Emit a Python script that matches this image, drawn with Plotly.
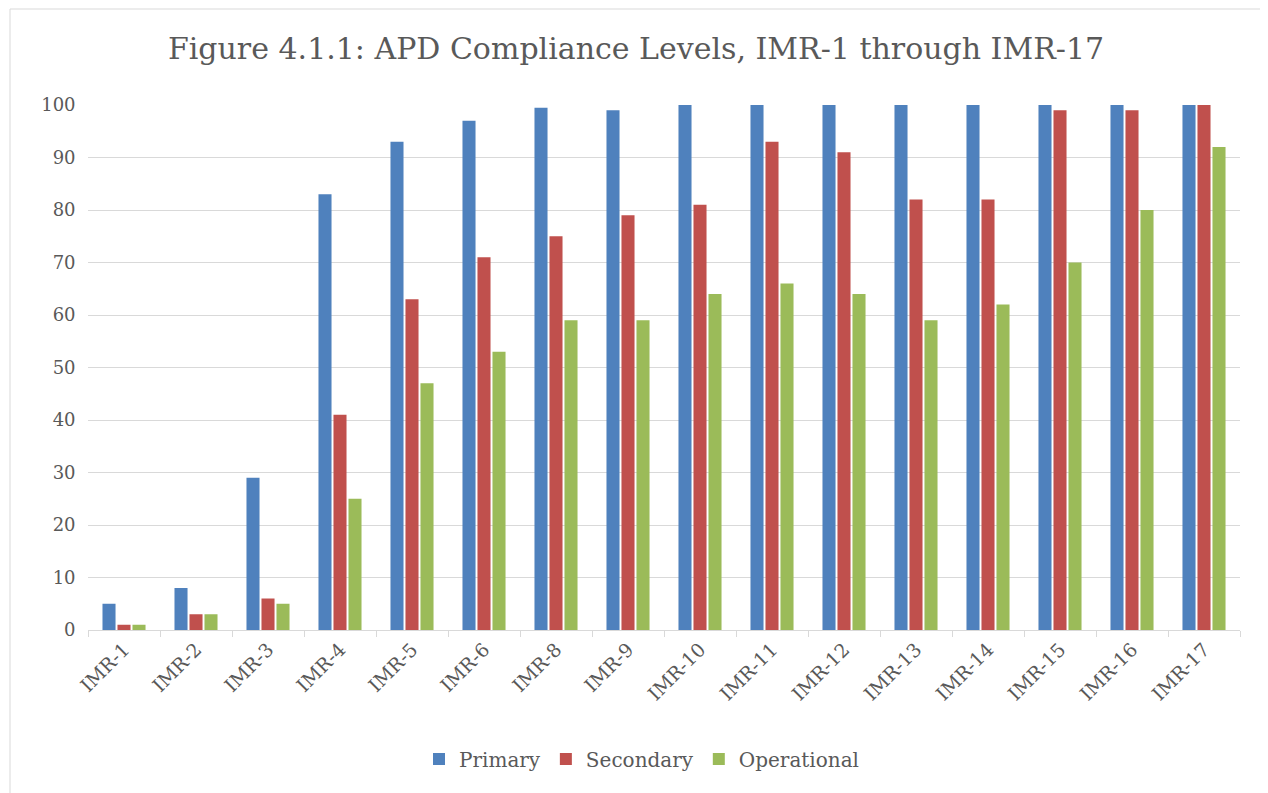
import plotly.graph_objects as go

categories = ["IMR-1", "IMR-2", "IMR-3", "IMR-4", "IMR-5", "IMR-6", "IMR-8", "IMR-9",
              "IMR-10", "IMR-11", "IMR-12", "IMR-13", "IMR-14", "IMR-15", "IMR-16", "IMR-17"]
primary = [5, 8, 29, 83, 93, 97, 99.5, 99, 100, 100, 100, 100, 100, 100, 100, 100]
secondary = [1, 3, 6, 41, 63, 71, 75, 79, 81, 93, 91, 82, 82, 99, 99, 100]
operational = [1, 3, 5, 25, 47, 53, 59, 59, 64, 66, 64, 59, 62, 70, 80, 92]

series_names = ["Primary", "Secondary", "Operational"]
colors = ["#4f81bd", "#c0504d", "#9bbb59"]

FONT = "DejaVu Serif"
TXT = "#595959"

fig = go.Figure()
for name, vals, col in zip(series_names, [primary, secondary, operational], colors):
    fig.add_trace(go.Bar(name=name, x=categories, y=vals, marker_color=col,
                         marker_line_width=0))

OFF = 8  # page body margin
W, H = 1268 - OFF, 793 - OFF
L, R, T, B = 88 - OFF, 28, 105 - OFF, 163
pw, ph = W - L - R, H - T - B

def px_x(x):
    return (x - OFF - L) / pw

def px_y(y):
    return (H - B - (y - OFF)) / ph

fig.update_layout(
    width=W, height=H,
    margin=dict(l=L, r=R, t=T, b=B),
    paper_bgcolor="white", plot_bgcolor="white",
    barmode="group", bargap=0.375, bargroupgap=0.13,
    font=dict(family=FONT, color=TXT, size=17),
    title=dict(text="Figure 4.1.1: APD Compliance Levels, IMR-1 through IMR-17",
               x=px_x(636), xanchor="center", xref="paper",
               y=1 - (48 - OFF) / H, yanchor="middle",
               font=dict(family=FONT, size=30, color=TXT)),
    legend=dict(orientation="h", x=px_x(642), xanchor="center", y=px_y(759), yanchor="middle",
                font=dict(family=FONT, size=20, color=TXT), traceorder="normal",
                itemwidth=30),
    showlegend=True,
    shapes=[dict(type="rect", xref="paper", yref="paper",
                 x0=px_x(10), x1=px_x(1275), y0=px_y(800), y1=px_y(9),
                 line=dict(color="#d9d9d9", width=1), fillcolor="rgba(0,0,0,0)",
                 layer="below")],
)
fig.update_xaxes(showline=True, linecolor="#d9d9d9", linewidth=1, ticks="outside",
                 tickson="boundaries", ticklen=6, tickcolor="#d9d9d9", tickangle=-45,
                 showgrid=False, tickfont=dict(family=FONT, size=19, color=TXT))
fig.update_yaxes(range=[0, 100], dtick=10, showgrid=True, gridcolor="#d9d9d9",
                 gridwidth=1, zeroline=False, showline=False, ticks="",
                 tickfont=dict(family=FONT, size=18, color=TXT), ticksuffix="  ")

fig.write_html("out.html")
